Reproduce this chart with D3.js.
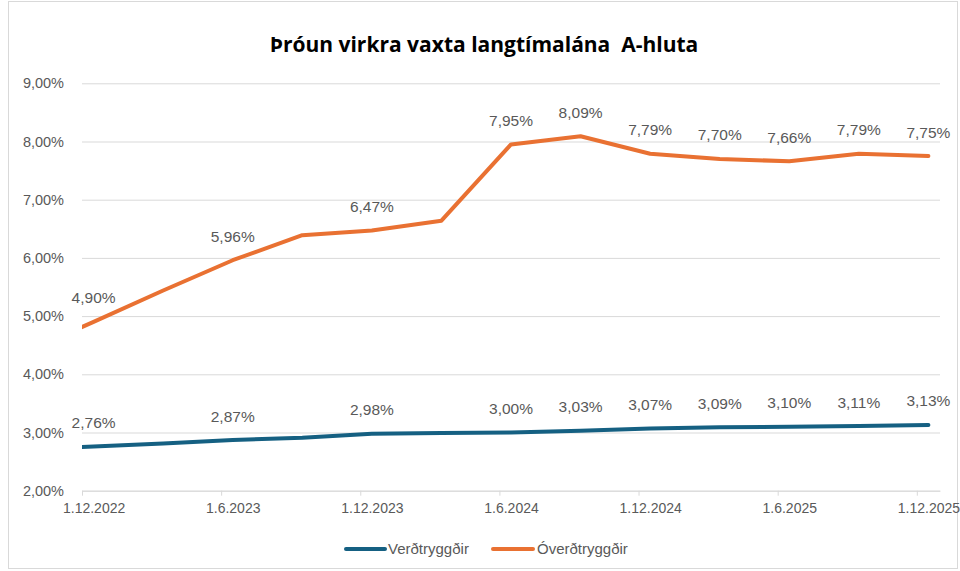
<!DOCTYPE html>
<html>
<head>
<meta charset="utf-8">
<script src="https://cdn.jsdelivr.net/npm/d3@7"></script>
<style>
  body { margin: 0; background: #fff; }
  svg text { font-family: "Liberation Sans", Arial, sans-serif; }
</style>
</head>
<body>
<svg id="chart" width="960" height="571"></svg>
<script>
// Quarterly observations (month of observation). The first one lies before the axis start.
const periods = ["2022-09", "2022-12", "2023-03", "2023-06", "2023-09", "2023-12", "2024-03",
                 "2024-06", "2024-09", "2024-12", "2025-03", "2025-06", "2025-09", "2025-12"];
const verdtryggdir  = [2.71, 2.76, 2.81, 2.87, 2.91, 2.98, 2.99, 3.00, 3.03, 3.07, 3.09, 3.10, 3.11, 3.13];
const overdtryggdir = [4.37, 4.90, 5.44, 5.96, 6.39, 6.47, 6.64, 7.95, 8.09, 7.79, 7.70, 7.66, 7.79, 7.75];
// 1 = value label shown above the point
const labelled = [0, 1, 0, 1, 0, 1, 0, 1, 1, 1, 1, 1, 1, 1];

const xTickLabels = ["1.12.2022", "1.6.2023", "1.12.2023", "1.6.2024", "1.12.2024", "1.6.2025", "1.12.2025"];
const yTickValues = [2, 3, 4, 5, 6, 7, 8, 9];

const seriesNames = ["Verðtryggðir", "Óverðtryggðir"];
const seriesColors = ["#156082", "#E97132"];

const svg = d3.select("#chart");
const W = 960, H = 571;
const plot = { left: 82, right: 940, top: 83.3, bottom: 490.7 };

// Month-based date axis: each month is one slot, points sit in the middle of their slot
const axisStart = new Date(2022, 11, 1);
const axisMonths = 37;
const parsePeriod = d3.timeParse("%Y-%m");
const parseTick = d3.timeParse("%-d.%-m.%Y");
const monthIndex = d => d3.timeMonth.count(axisStart, d);

const x = d3.scaleLinear().domain([0, axisMonths]).range([plot.left, plot.right]);
const y = d3.scaleLinear().domain([2, 9]).range([plot.bottom, plot.top]);

const fmtPct = v => v.toFixed(2).replace(".", ",") + "%";

// Outer chart frame
svg.append("rect")
  .attr("x", 8.5).attr("y", 1.5)
  .attr("width", W - 11).attr("height", H - 4)
  .attr("fill", "none").attr("stroke", "#d9d9d9");

// Title
svg.append("text")
  .attr("x", 484).attr("y", 52)
  .attr("text-anchor", "middle")
  .style("font-family", "'Open Sans', sans-serif")
  .style("font-weight", "700")
  .style("font-size", "21px")
  .style("white-space", "pre")
  .attr("fill", "#000")
  .text("Þróun virkra vaxta langtímalána  A-hluta");

// Y axis with horizontal gridlines
const yAxis = svg.append("g")
  .attr("transform", `translate(${plot.left},0)`)
  .call(d3.axisLeft(y)
    .tickValues(yTickValues)
    .tickFormat(fmtPct)
    .tickSizeInner(-(plot.right - plot.left))
    .tickSizeOuter(0)
    .tickPadding(18));
yAxis.select(".domain").remove();
yAxis.selectAll(".tick line").attr("stroke", "#d9d9d9").attr("stroke-width", 1);
yAxis.selectAll(".tick text")
  .attr("fill", "#595959")
  .style("font-size", "14.5px");

// X axis: tick marks at month boundaries, labels at the month centre
const tickIdx = xTickLabels.map(s => monthIndex(parseTick(s)));
const xMarks = svg.append("g")
  .attr("transform", `translate(0,${plot.bottom})`)
  .call(d3.axisBottom(x).tickValues(tickIdx).tickFormat("").tickSizeInner(5).tickSizeOuter(0));
xMarks.select(".domain").attr("stroke", "#d9d9d9");
xMarks.selectAll(".tick line").attr("stroke", "#d9d9d9");

const xLabels = svg.append("g")
  .attr("transform", `translate(0,${plot.bottom})`)
  .call(d3.axisBottom(x)
    .tickValues(tickIdx.map(i => i + 0.5))
    .tickFormat((d, i) => xTickLabels[i])
    .tickSize(0)
    .tickPadding(12));
xLabels.select(".domain").remove();
xLabels.selectAll(".tick text")
  .attr("fill", "#595959")
  .style("font-size", "14px");

// Lines, clipped to the plot area
svg.append("clipPath").attr("id", "plotClip")
  .append("rect")
  .attr("x", plot.left).attr("y", 0)
  .attr("width", plot.right - plot.left).attr("height", H);

const px = i => x(monthIndex(parsePeriod(periods[i])) + 0.5);
const series = [verdtryggdir, overdtryggdir];

series.forEach((vals, s) => {
  const line = d3.line()
    .x((d, i) => px(i))
    .y(d => y(d));
  svg.append("path")
    .datum(vals)
    .attr("clip-path", "url(#plotClip)")
    .attr("d", line)
    .attr("fill", "none")
    .attr("stroke", seriesColors[s])
    .attr("stroke-width", 4)
    .attr("stroke-linejoin", "round")
    .attr("stroke-linecap", "round");
});

// Value labels
series.forEach((vals, s) => {
  svg.append("g").selectAll("text")
    .data(vals.map((v, i) => ({ v, i })).filter(d => labelled[d.i]))
    .join("text")
    .attr("x", d => px(d.i))
    .attr("y", d => y(d.v) - 18.5)
    .attr("text-anchor", "middle")
    .attr("fill", "#595959")
    .style("font-size", "15.5px")
    .text(d => fmtPct(d.v));
});

// Legend
const legendItems = [
  { x0: 346, x1: 385, tx: 388 },
  { x0: 493, x1: 533, tx: 537 }
];
legendItems.forEach((it, s) => {
  svg.append("line")
    .attr("x1", it.x0).attr("x2", it.x1)
    .attr("y1", 549).attr("y2", 549)
    .attr("stroke", seriesColors[s])
    .attr("stroke-width", 4)
    .attr("stroke-linecap", "round");
  svg.append("text")
    .attr("x", it.tx).attr("y", 554)
    .attr("fill", "#595959")
    .style("font-size", "15px")
    .text(seriesNames[s]);
});
</script>
</body>
</html>
